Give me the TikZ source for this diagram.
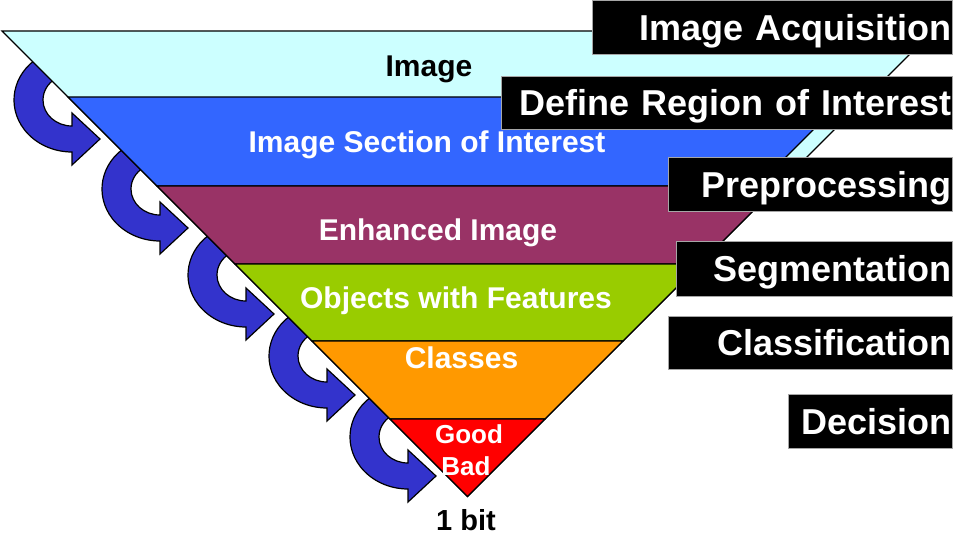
\documentclass[tikz,border=0pt]{standalone}
\usepackage{fontspec}
\setmainfont{Liberation Sans}
\usepackage{xcolor}
\usetikzlibrary{positioning}

\definecolor{bandCyan}{HTML}{CCFFFF}
\definecolor{bandBlue}{HTML}{3366FF}
\definecolor{bandPurple}{HTML}{993366}
\definecolor{bandGreen}{HTML}{99CC00}
\definecolor{bandOrange}{HTML}{FF9900}
\definecolor{bandRed}{HTML}{FF0000}
\definecolor{arrowBlue}{HTML}{3333CC}

\begin{document}
\begin{tikzpicture}[
        x=1pt, y=-1pt,
        band/.style={
            draw=black,
            line width=1.2pt,
            line join=miter
        },
        bandText/.style={
            font=\bfseries\fontsize{30}{30}\selectfont,
            text=white,
            anchor=base,
            inner sep=0pt
        },
        stage/.style={
            fill=black,
            draw=gray!70,
            line width=0.8pt,
            text=white,
            font=\bfseries\fontsize{36}{36}\selectfont,
            align=right,
            anchor=north east,
            inner xsep=1pt,
            inner ysep=0pt,
            text height=26pt,
            text depth=0pt
        },
        turnArrow/.style={
            fill=arrowBlue,
            draw=black,
            line width=1.2pt,
            line join=miter
        }
    ]

        \useasboundingbox (0,0) rectangle (954,535);

        % ---- Arrows (behind the pyramid) ----
        \foreach \cx/\cy in {72/100, 160/189, 246/275, 327/356, 408/437} {
            \draw[turnArrow] (\cx,\cy) ++(235:58 and 52)
                arc[start angle=235, end angle=90, x radius=58, y radius=52]
                -- ++(0,13) -- ++(28,-26) -- ++(-28,-26) -- ++(0,13)
                arc[start angle=90, end angle=235, x radius=29, y radius=26]
                -- cycle;
        }

        % ---- Pyramid bands ----
        \draw[band, fill=bandCyan] (2,31) -- (933,31) -- (467.5,496.5) -- cycle;
        \draw[band, fill=bandBlue] (68,97) -- (846,97) -- (757,186) -- (157,186) -- cycle;
        \draw[band, fill=bandPurple] (157,186) -- (778,186) -- (700,264) -- (235,264) -- cycle;
        \draw[band, fill=bandGreen] (235,264) -- (700,264) -- (623,341) -- (312,341) -- cycle;
        \draw[band, fill=bandOrange] (312,341) -- (623,341) -- (545,419) -- (390,419) -- cycle;
        \draw[band, fill=bandRed] (390,419) -- (545,419) -- (467.5,496.5) -- cycle;

        % ---- Band labels ----
        \node[bandText, text=black] (img) at (429,77) {Image};
        \node[bandText] (section) at (427,152) {Image Section of Interest};
        \node[bandText] (enhanced) at (438,240) {Enhanced Image};
        \node[bandText] (objects) at (456,308) {Objects with Features};
        \node[bandText] (classes) at (461.5,368) {Classes};
        \node[bandText, font=\bfseries\fontsize{26}{26}\selectfont] (good) at (469,443) {Good};
        \node[bandText, font=\bfseries\fontsize{26}{26}\selectfont] (bad) at (466,475) {Bad};
        \node[bandText, text=black, font=\bfseries\fontsize{29}{29}\selectfont] (bit) at (466,530) {1 bit};

        % ---- Processing stages ----
        \node[stage, text width=358pt, minimum height=54pt] (acq) at (953,0.5) {Image Acquisition};
        \node[stage, text width=449pt, minimum height=53pt] (roi) at (953,76) {Define Region of Interest};
        \node[stage, text width=282pt, minimum height=54pt] (pre) at (953,157) {Preprocessing};
        \node[stage, text width=274pt, minimum height=55pt] (seg) at (953,241) {Segmentation};
        \node[stage, text width=282pt, minimum height=53pt] (cls) at (953,316) {Classification};
        \node[stage, text width=162pt, minimum height=54pt] (dec) at (953,394) {Decision};

    \end{tikzpicture}
\end{document}
